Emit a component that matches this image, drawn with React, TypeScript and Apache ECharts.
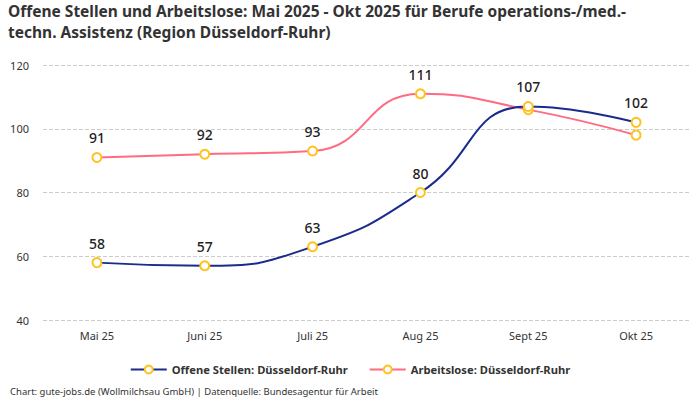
import React, { useEffect, useRef } from "react";
import * as echarts from "echarts";

const categories = ["Mai 25", "Juni 25", "Juli 25", "Aug 25", "Sept 25", "Okt 25"];
const offeneStellen = [58, 57, 63, 80, 107, 102];
const arbeitslose = [91, 92, 93, 111, 106, 98];
const arbeitsloseLabelShown = [true, true, true, true, false, false];
const seriesNames = ["Offene Stellen: Düsseldorf-Ruhr", "Arbeitslose: Düsseldorf-Ruhr"];
const titleLines = [
  "Offene Stellen und Arbeitslose: Mai 2025 - Okt 2025 für Berufe operations-/med.-",
  "techn. Assistenz (Region Düsseldorf-Ruhr)",
];
const footText = "Chart: gute-jobs.de (Wollmilchsau GmbH) | Datenquelle: Bundesagentur für Arbeit";

const FONT = "'Noto Sans', sans-serif";

export default function App() {
  const ref = useRef<HTMLDivElement>(null);
  useEffect(() => {
    if (!ref.current) return;
    const chart = echarts.init(ref.current, undefined, { renderer: "svg" });
    const label = {
      show: true,
      position: "top",
      distance: 7,
      fontFamily: FONT,
      fontSize: 14,
      fontWeight: 500,
      color: "#222",
    };
    const titleStyle = { fontFamily: FONT, fontSize: 15.5, fontWeight: "bold", color: "#333", lineHeight: 18 };
    chart.setOption({
      animation: false,
      textStyle: { fontFamily: FONT },
      title: [
        { text: titleLines[0], left: 8, top: 2, padding: 0, textStyle: titleStyle },
        { text: titleLines[1], left: 8, top: 23, padding: 0, textStyle: titleStyle },
      ],
      grid: { left: 43, right: 10, top: 65, bottom: 80 },
      legend: {
        bottom: 20,
        left: "center",
        itemGap: 21,
        itemWidth: 36,
        itemHeight: 10,
        textStyle: { fontFamily: FONT, fontSize: 11.2, fontWeight: "bold", color: "#333" },
        data: seriesNames,
      },
      graphic: [
        {
          type: "text",
          left: 10,
          bottom: 4,
          style: { text: footText, fontFamily: FONT, fontSize: 9.5, fill: "#333" },
        },
      ],
      xAxis: {
        type: "category",
        data: categories,
        boundaryGap: true,
        axisLine: { show: false },
        axisTick: { show: false },
        axisLabel: { fontFamily: FONT, fontSize: 11, color: "#333", margin: 10 },
      },
      yAxis: {
        type: "value",
        min: 40,
        max: 120,
        interval: 20,
        axisLabel: { fontFamily: FONT, fontSize: 11, color: "#333", margin: 14 },
        splitLine: { lineStyle: { type: "dashed", color: "#ccc" } },
      },
      series: [
        {
          name: seriesNames[0],
          type: "line",
          smooth: true,
          data: offeneStellen,
          symbol: "circle",
          symbolSize: 9,
          lineStyle: { color: "#1a2b8c", width: 2 },
          itemStyle: { color: "#fff", borderColor: "#ffc21f", borderWidth: 2 },
          label,
          z: 3,
        },
        {
          name: seriesNames[1],
          type: "line",
          smooth: true,
          data: arbeitslose.map((v, i) => ({ value: v, label: { show: arbeitsloseLabelShown[i] } })),
          symbol: "circle",
          symbolSize: 9,
          lineStyle: { color: "#ff6b83", width: 2 },
          itemStyle: { color: "#fff", borderColor: "#ffc21f", borderWidth: 2 },
          label,
          z: 2,
        },
      ],
    });
    return () => chart.dispose();
  }, []);
  return <div ref={ref} style={{ position: "absolute", left: 0, top: 0, width: 700, height: 400 }} />;
}
